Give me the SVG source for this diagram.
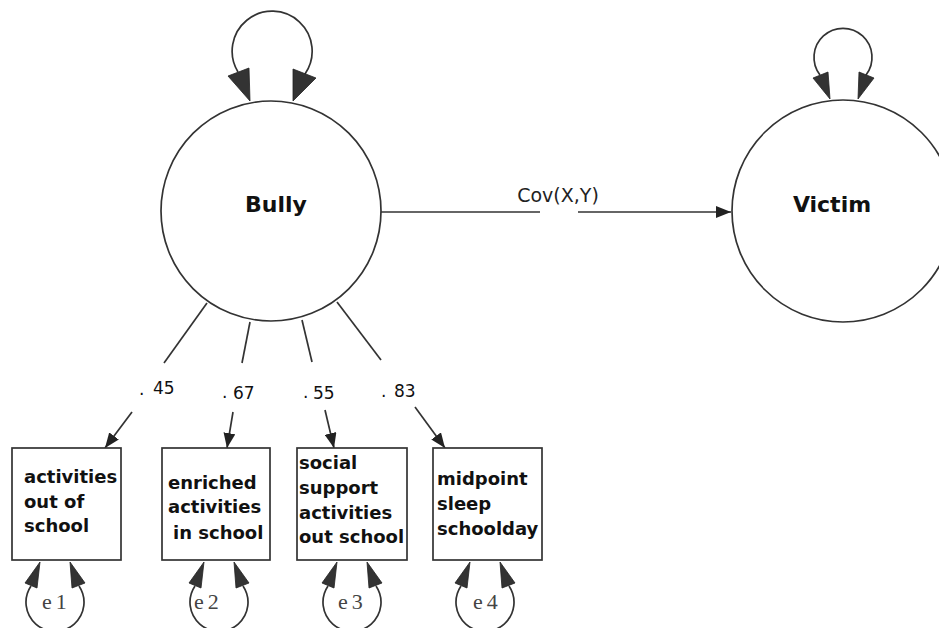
<svg xmlns="http://www.w3.org/2000/svg" width="939" height="628" viewBox="0 0 939 628">
<defs>
<style>
.ln{stroke:#333;stroke-width:1.7;fill:none}
.nd{stroke:#333;stroke-width:1.7;fill:#fff}
.hd{fill:#333;stroke:#222;stroke-width:0.8}
.lat{font-family:"DejaVu Sans",sans-serif;font-weight:bold;font-size:22px;fill:#111}
.obs{font-family:"DejaVu Sans",sans-serif;font-weight:bold;font-size:18px;fill:#111}
.num{font-family:"DejaVu Sans",sans-serif;font-size:17px;fill:#111}
.cov{font-family:"DejaVu Sans",sans-serif;font-size:19px;fill:#222}
.err{font-family:"Liberation Serif",serif;font-size:22px;fill:#444;letter-spacing:4px}
</style>
<marker id="ah" markerUnits="userSpaceOnUse" markerWidth="16" markerHeight="12" refX="15" refY="6" orient="auto">
<path d="M0,0 L15,6 L0,12 z" fill="#222"/>
</marker>
</defs>
<rect width="939" height="628" fill="#fff"/>

<g id="connectors">
<line class="ln" x1="381" y1="212" x2="540" y2="212"/>
<line class="ln" x1="578" y1="212" x2="731" y2="212" marker-end="url(#ah)"/>
<line class="ln" x1="207" y1="303" x2="164" y2="363"/>
<line class="ln" x1="250" y1="322" x2="242" y2="363"/>
<line class="ln" x1="302" y1="320" x2="312" y2="362"/>
<line class="ln" x1="337" y1="302" x2="381" y2="360"/>
<line class="ln" x1="132" y1="412" x2="105" y2="448" marker-end="url(#ah)"/>
<line class="ln" x1="233" y1="412" x2="227" y2="448" marker-end="url(#ah)"/>
<line class="ln" x1="325" y1="410" x2="334" y2="448" marker-end="url(#ah)"/>
<line class="ln" x1="415" y1="407" x2="445" y2="448" marker-end="url(#ah)"/>
<text class="cov" x="558" y="202" text-anchor="middle">Cov(X,Y)</text>
<text class="num"><tspan x="139" y="395">.</tspan><tspan x="153" y="394">45</tspan></text>
<text class="num"><tspan x="222" y="398">.</tspan><tspan x="233" y="399">67</tspan></text>
<text class="num"><tspan x="303" y="398">.</tspan><tspan x="313" y="399">55</tspan></text>
<text class="num"><tspan x="381" y="397">.</tspan><tspan x="394" y="397">83</tspan></text>
</g>

<g id="bully">
<circle class="nd" cx="271" cy="211" r="110"/>
<text class="lat" x="276" y="212" text-anchor="middle">Bully</text>
<path class="ln" d="M238,72 A40,40 0 1 1 305,74"/>
<polygon class="hd" points="228,76 249,68 250,101"/>
<polygon class="hd" points="293,69 316,78 293,101"/>
</g>

<g id="victim">
<circle class="nd" cx="843" cy="211" r="111"/>
<text class="lat" x="832" y="212" text-anchor="middle">Victim</text>
<path class="ln" d="M820,75 A29,29 0 1 1 866,75"/>
<polygon class="hd" points="813,78 828,72 830,99"/>
<polygon class="hd" points="859,72 874,78 858,99"/>
</g>

<g id="obs1">
<rect class="nd" x="12" y="448" width="109" height="112"/>
<text class="obs"><tspan x="24" y="483">activities</tspan><tspan x="24" y="508">out of</tspan><tspan x="24" y="532">school</tspan></text>
</g>
<g id="obs2">
<rect class="nd" x="162" y="448" width="108" height="112"/>
<text class="obs"><tspan x="168" y="489">enriched</tspan><tspan x="168" y="513">activities</tspan><tspan x="173" y="539">in school</tspan></text>
</g>
<g id="obs3">
<rect class="nd" x="297" y="448" width="110" height="112"/>
<text class="obs"><tspan x="299" y="469">social</tspan><tspan x="299" y="494">support</tspan><tspan x="299" y="519">activities</tspan><tspan x="299" y="543">out school</tspan></text>
</g>
<g id="obs4">
<rect class="nd" x="433" y="448" width="109" height="112"/>
<text class="obs"><tspan x="437" y="485">midpoint</tspan><tspan x="437" y="510">sleep</tspan><tspan x="437" y="535">schoolday</tspan></text>
</g>

<g id="e1">
<path class="ln" d="M31,586 A29,29 0 1 0 79,586"/>
<polygon class="hd" points="25,583 37,588 40,562"/>
<polygon class="hd" points="72,588 85,583 70,562"/>
<text class="err" x="42" y="609">e1</text>
</g>
<g id="e2">
<path class="ln" d="M195,586 A29,29 0 1 0 243,586"/>
<polygon class="hd" points="189,583 201,588 204,562"/>
<polygon class="hd" points="236,588 249,583 234,562"/>
<text class="err" x="194" y="609">e2</text>
</g>
<g id="e3">
<path class="ln" d="M328,586 A29,29 0 1 0 376,586"/>
<polygon class="hd" points="322,583 334,588 337,562"/>
<polygon class="hd" points="369,588 382,583 367,562"/>
<text class="err" x="338" y="609">e3</text>
</g>
<g id="e4">
<path class="ln" d="M461,586 A29,29 0 1 0 509,586"/>
<polygon class="hd" points="455,583 467,588 470,562"/>
<polygon class="hd" points="502,588 515,583 500,562"/>
<text class="err" x="473" y="609">e4</text>
</g>
</svg>
